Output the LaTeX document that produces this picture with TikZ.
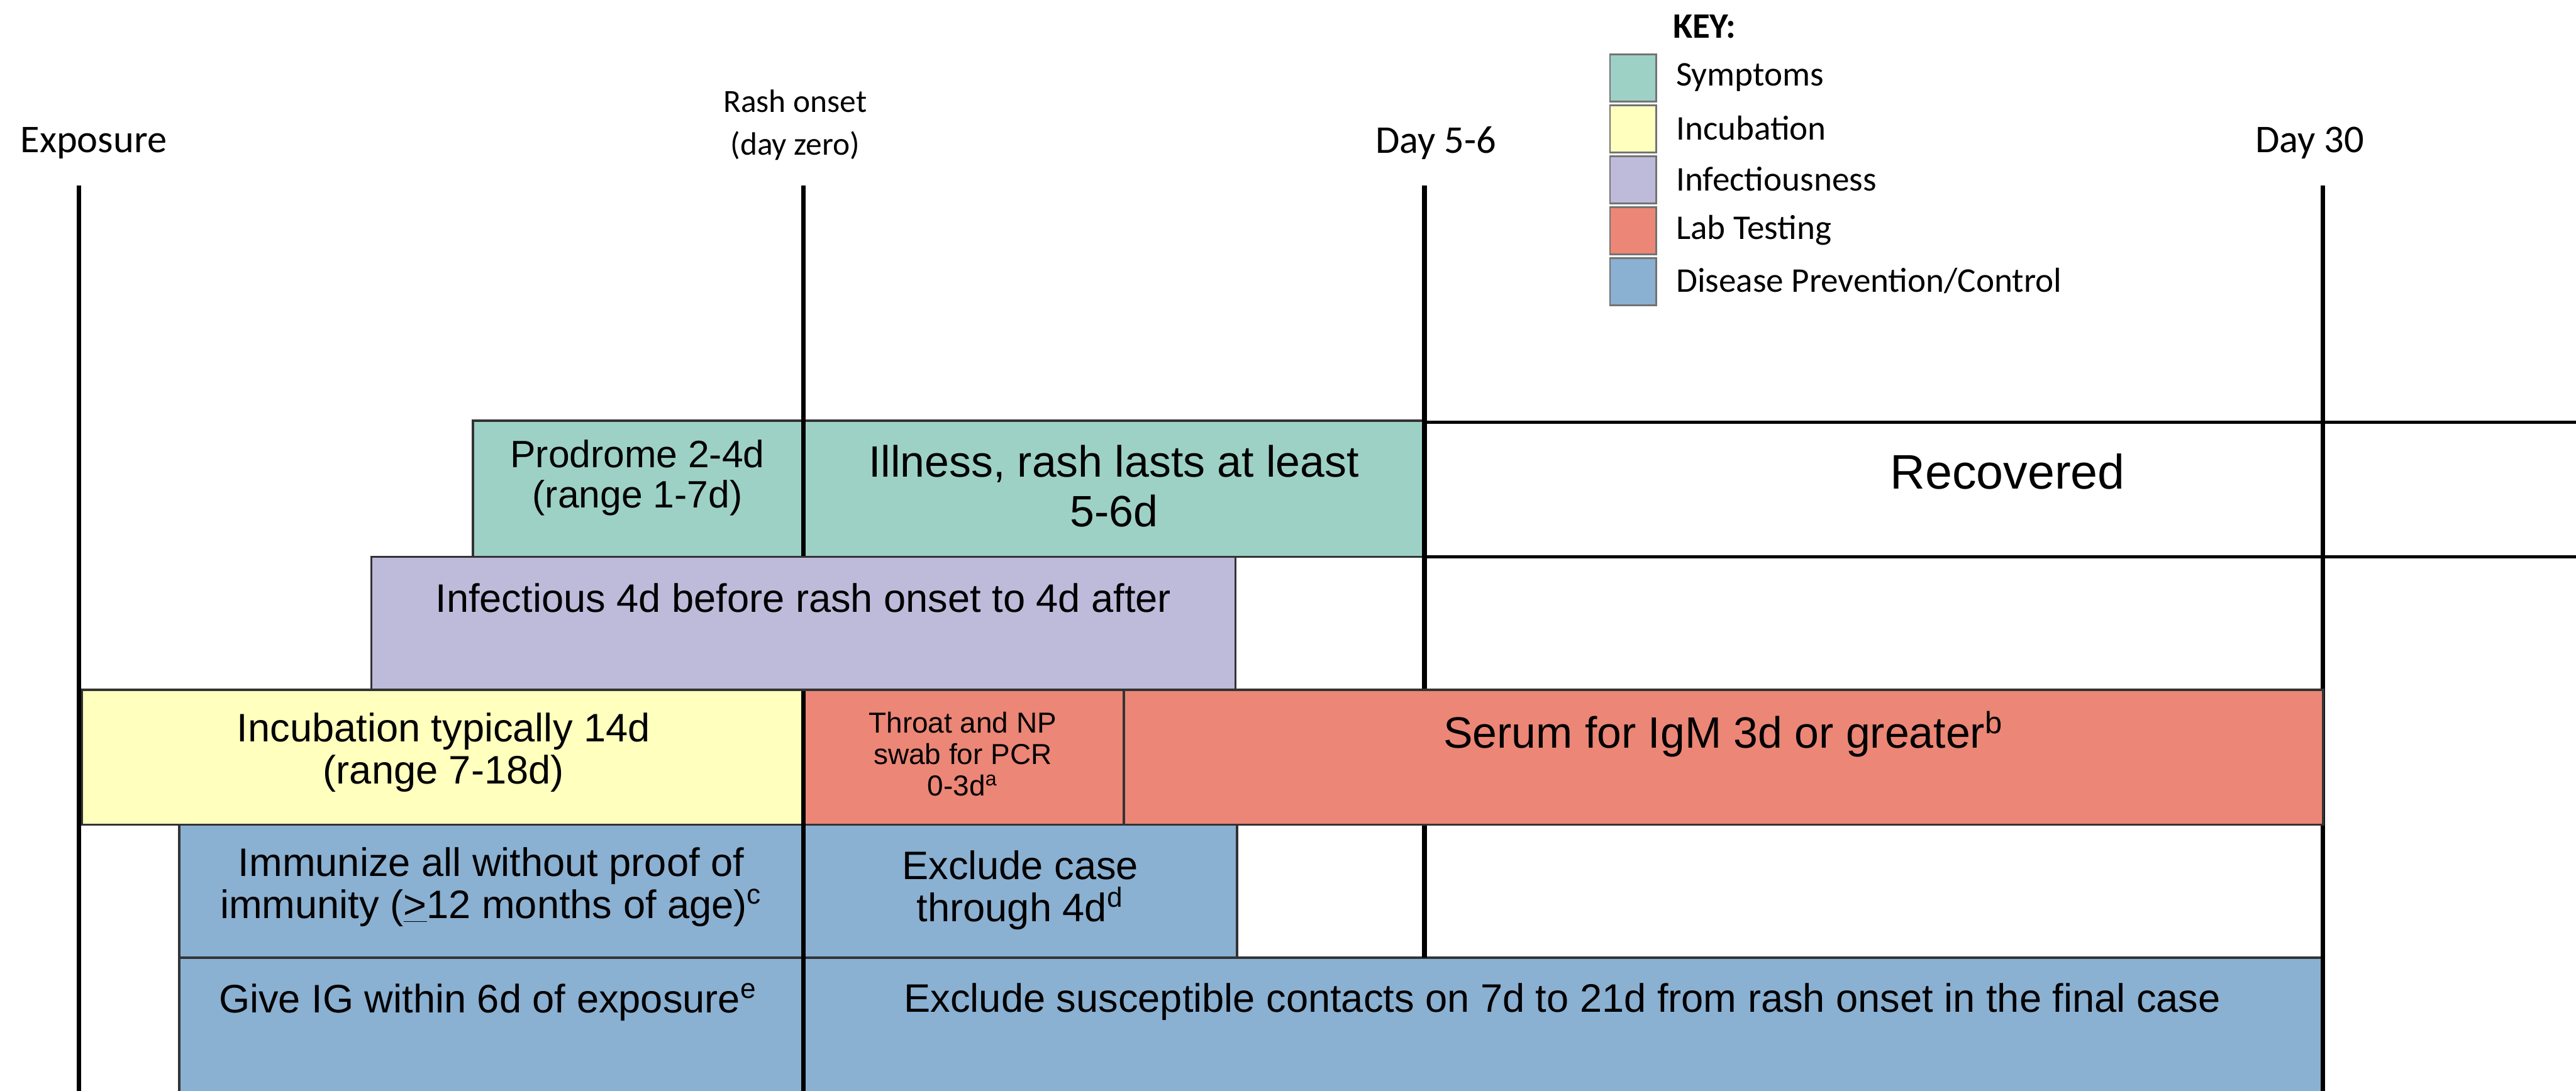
\documentclass[tikz,border=0pt]{standalone}
\usepackage{fontspec}
\setmainfont{Liberation Sans}
\newfontfamily\calibri{Carlito}
\usetikzlibrary{positioning}

\definecolor{sympcol}{RGB}{157,209,198}
\definecolor{incucol}{RGB}{255,255,190}
\definecolor{infcol}{RGB}{190,186,218}
\definecolor{labcol}{RGB}{236,134,118}
\definecolor{prevcol}{RGB}{138,176,210}

\begin{document}
\begin{tikzpicture}[x=0.025cm, y=-0.025cm]
    \tikzset{
        dayline/.style={line width=2pt, black},
        bar/.style={draw=black!80, line width=1pt},
        recline/.style={line width=1.4pt, black},
        bartext/.style={align=center, inner sep=0pt, font=\fontsize{17.2}{18.2}\selectfont},
        bigtext/.style={bartext, font=\fontsize{19}{21.5}\selectfont},
        smalltext/.style={bartext, font=\fontsize{12.5}{13.6}\selectfont},
        daylabel/.style={align=center, inner sep=0pt, font=\calibri\fontsize{17}{20}\selectfont},
        swatch/.style={draw=black!55, line width=0.8pt},
        keytext/.style={anchor=west, inner sep=0pt, font=\calibri\fontsize{15}{17}\selectfont}
    }
    \useasboundingbox (0,0) rectangle (1568,664);

    % --- Etiquetas del eje de tiempo ---
    \node [daylabel] (exposure) at (57,87) {Exposure};
    \node [daylabel, font=\calibri\fontsize{14}{18.5}\selectfont] (rash) at (484,76) {Rash onset\\(day zero)};
    \node [daylabel] (day56) at (874,87) {Day 5-6};
    \node [daylabel] (day30) at (1406,87) {Day 30};

    % --- Clave de colores ---
    \node [keytext, font=\calibri\bfseries\fontsize{15.5}{17}\selectfont] (key) at (1018,16) {KEY:};
    \foreach \col/\txt [count=\i] in {sympcol/Symptoms, incucol/Incubation, infcol/Infectiousness, labcol/Lab Testing, prevcol/{Disease Prevention/Control}} {
        \draw [swatch, fill=\col] (980,{2+31*\i}) rectangle (1008,{31+31*\i});
        \node [keytext] (key\i) at (1020,{16+31*\i}) {\txt};
    }

    % --- Barras sin solapar lineas ---
    \draw [bar, fill=sympcol] (288,256) rectangle (489,339);
    \draw [bar, fill=sympcol] (489,256) rectangle (867,339);
    \draw [bar, fill=incucol] (50,420) rectangle (489,502);
    \draw [bar, fill=labcol] (489,420) rectangle (684,502);
    \draw [bar, fill=prevcol] (109,502) rectangle (489,583);
    \draw [bar, fill=prevcol] (489,502) rectangle (753,583);
    \draw [bar, fill=prevcol] (109,583) rectangle (489,668);
    \draw [bar, fill=prevcol] (489,583) rectangle (1414,668);

    % --- Lineas de dias ---
    \coordinate (expT) at (48,113);   \coordinate (expB) at (48,664);
    \coordinate (rashT) at (489,113); \coordinate (rashB) at (489,664);
    \coordinate (d56T) at (867,113);  \coordinate (d56B) at (867,583);
    \coordinate (d30T) at (1414,113); \coordinate (d30B) at (1414,664);
    \draw [dayline] (expT) -- (expB);
    \draw [dayline] (rashT) -- (rashB);
    \draw [dayline] (d56T) -- (d56B);
    \draw [dayline] (d30T) -- (d30B);

    % --- Barras que tapan las lineas ---
    \draw [bar, fill=infcol] (226,339) rectangle (752,420);
    \draw [bar, fill=labcol] (684,420) rectangle (1414,502);

    % --- Fila de recuperado ---
    \coordinate (recTL) at (867,257); \coordinate (recTR) at (1568,257);
    \coordinate (recBL) at (867,339); \coordinate (recBR) at (1568,339);
    \draw [recline] (recTL) -- (recTR);
    \draw [recline] (recBL) -- (recBR);

    % --- Textos de las barras ---
    \node [bartext, font=\fontsize{16.5}{17.5}\selectfont] (prodrome) at (388,291) {Prodrome 2-4d\\(range 1-7d)};
    \node [bigtext] (illness) at (678,296) {Illness, rash lasts at least\\5-6d};
    \node [bigtext, font=\fontsize{21}{24}\selectfont] (recovered) at (1222,287) {Recovered};
    \node [bartext] (infectious) at (489,364) {Infectious 4d before rash onset to 4d after};
    \node [bartext] (incubation) at (270,458) {Incubation typically 14d\\(range 7-18d)};
    \node [smalltext] (throat) at (586,459) {Throat and NP\\swab for PCR\\0-3d\textsuperscript{a}};
    \node [bigtext] (serum) at (1049,447) {Serum for IgM 3d or greater\textsuperscript{b}};
    \node [bartext] (immunize) at (299,540) {Immunize all without proof of\\immunity (\underline{>}12 months of age)\textsuperscript{c}};
    \node [bartext] (exclcase) at (621,542) {Exclude case\\through 4d\textsuperscript{d}};
    \node [bartext] (giveig) at (297,610) {Give IG within 6d of exposure\textsuperscript{e}};
    \node [bartext] (exclcont) at (951,610) {Exclude susceptible contacts on 7d to 21d from rash onset in the final case};
\end{tikzpicture}
\end{document}
